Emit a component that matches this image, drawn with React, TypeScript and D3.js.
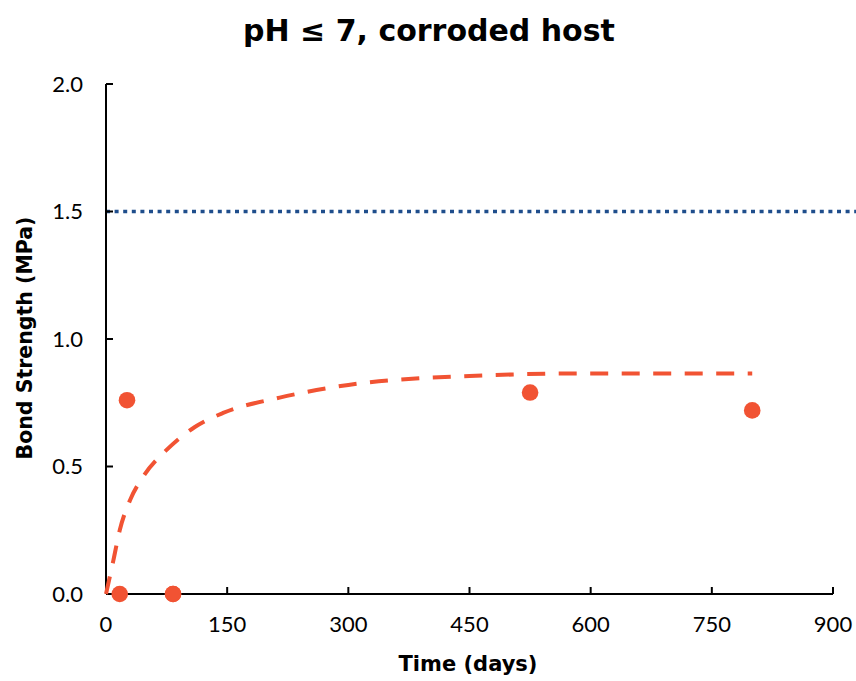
import React from "react";
import * as d3 from "d3";

const title = "pH \u2264 7, corroded host";
const xLabel = "Time (days)";
const yLabel = "Bond Strength (MPa)";
const xTicks = [0, 150, 300, 450, 600, 750, 900];
const yTicks = [0, 0.5, 1.0, 1.5, 2.0];

// measured data points (days, MPa)
const pointDays = [17, 26, 83, 83, 525, 800];
const pointValues = [0, 0.76, 0, 0, 0.79, 0.72];

// trend curve
const trendDays = [0, 9, 17, 30, 46, 75, 110, 145, 215, 300, 450, 600, 800];
const trendValues = [0, 0.13, 0.25, 0.37, 0.46, 0.565, 0.655, 0.71, 0.77, 0.82, 0.855, 0.865, 0.865];

const thresholdValue = 1.5;

const W = 856;
const H = 681;
const margin = { left: 106, right: 23, top: 84, bottom: 87 };

export default function App() {
  const x = d3.scaleLinear().domain([0, 900]).range([margin.left, W - margin.right]);
  const y = d3.scaleLinear().domain([0, 2]).range([H - margin.bottom, margin.top]);
  const red = "#f15333";
  const blue = "#1f4e8c";
  const font = "Lato, 'Noto Sans', sans-serif";
  const bold = "'DejaVu Sans', sans-serif";

  const trend = d3
    .line<number>()
    .x((_, i) => x(trendDays[i]))
    .y((d) => y(d))
    .curve(d3.curveMonotoneX)(trendValues) as string;

  const y0 = y(0);
  return (
    <svg width={W} height={H} style={{ position: "absolute", left: 0, top: 0, background: "#fff" }}>
      <text x={429} y={41} textAnchor="middle" fontFamily={bold} fontWeight={700} fontSize={30}>
        {title}
      </text>
      {/* threshold line */}
      <line x1={x(0)} x2={W} y1={y(thresholdValue)} y2={y(thresholdValue)} stroke={blue} strokeWidth={3.5} strokeDasharray="4 4.6" />
      {/* axes */}
      <line x1={x(0)} x2={x(0)} y1={y(2)} y2={y0} stroke="#000" strokeWidth={2} />
      <line x1={x(0)} x2={x(900)} y1={y0} y2={y0} stroke="#000" strokeWidth={2} />
      {yTicks.map((t) => (
        <g key={"y" + t}>
          <line x1={x(0)} x2={x(0) + 7} y1={y(t)} y2={y(t)} stroke="#000" strokeWidth={2} />
          <text x={83} y={y(t) + 7.5} textAnchor="end" fontFamily={font} fontSize={22}>
            {t.toFixed(1)}
          </text>
        </g>
      ))}
      {xTicks.map((t) => (
        <g key={"x" + t}>
          <line x1={x(t)} x2={x(t)} y1={y0} y2={y0 - 7} stroke="#000" strokeWidth={2} />
          <text x={x(t)} y={632} textAnchor="middle" fontFamily={font} fontSize={22}>
            {t}
          </text>
        </g>
      ))}
      <text x={468} y={671} textAnchor="middle" fontFamily={bold} fontWeight={700} fontSize={21}>
        {xLabel}
      </text>
      <text
        transform={`translate(32,${338}) rotate(-90)`}
        textAnchor="middle"
        fontFamily={bold}
        fontWeight={700}
        fontSize={20.5}
      >
        {yLabel}
      </text>
      {/* trend */}
      <path d={trend} fill="none" stroke={red} strokeWidth={4} strokeDasharray="18 13.5" />
      {pointDays.map((d, i) => (
        <circle key={i} cx={x(d)} cy={y(pointValues[i])} r={8.3} fill={red} />
      ))}
    </svg>
  );
}
